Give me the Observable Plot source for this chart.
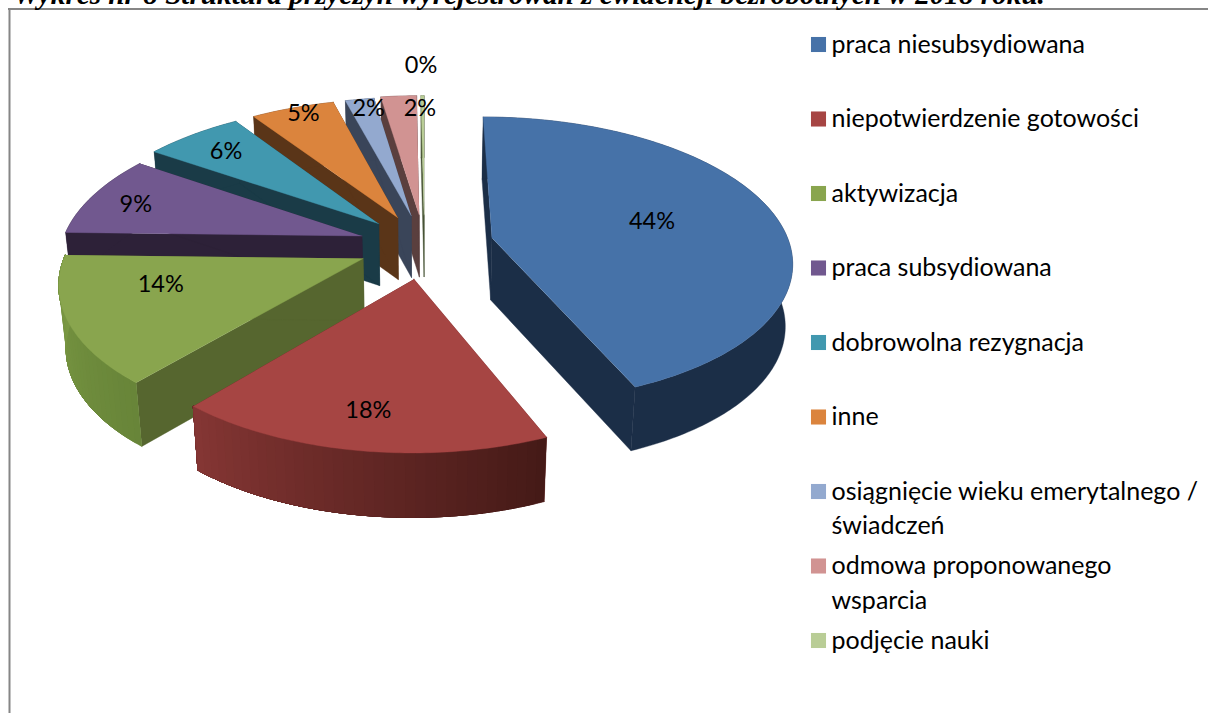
<!DOCTYPE html>
<html><head><meta charset="utf-8">
<script src="https://cdn.jsdelivr.net/npm/d3@7"></script>
<script src="https://cdn.jsdelivr.net/npm/@observablehq/plot@0.6"></script>
<style>html,body{margin:0;padding:0;background:#fff;overflow:hidden}svg{display:block}</style>
</head><body><div id="chart"></div>
<script>
const categories = ["praca niesubsydiowana","niepotwierdzenie gotowości","aktywizacja","praca subsydiowana","dobrowolna rezygnacja","inne","osiągnięcie wieku emerytalnego /\nświadczeń","odmowa proponowanego\nwsparcia","podjęcie nauki"];
const values = [43.7,17.5,14.2,9.1,6.1,5.2,1.8,2.2,0.2];
const labels = ["44%","18%","14%","9%","6%","5%","2%","2%","0%"];
const topColors = ["#4672a8","#a64543","#89a54e","#71588f","#4198af","#db843d","#93a9cf","#d19392","#b9cd96"];
const wallColors = ["#1b2e47","#5f2322","#56662f","#2d2138","#1a3b47","#5a3518","#3a4559","#5a3f3e","#4a5638"];
const rimFrom = [null,"#853634","#7c9a44",null,null,null,null,null,null];
const rimTo = [null,"#451a17","#688539",null,null,null,null,null,null];
// layout of the 3D view
const view = {x0:424, y0:245, R:295, b:140, k:0.15, h:62, hFront:2, explode:0.225, floorX:0.98};
const nudge = [[0.01,-0.01],[0,0.01],[0,0],[0,0],[0,0],[0,0],[0,0],[0,0],[0,0]];
const radius = [1.01,0.98,1,1.02,1.04,1.04,1.04,1.05,1.05];
const labelR = [0.571,0.785,0.678,0.84,0.82,0.955,0.928,0.911,1.354];
const labelShift = [0,0.5,8,-2,-1,0.8,1,4.7,-0.2];
const title = "Wykres nr 8 Struktura przyczyn wyrejestrowań z ewidencji bezrobotnych w 2018 roku.";
const legendRow = {first:44, step:74.5, sq:818, text:831};

const project = (X,Y,z=0)=>{const w=1-view.k*Y;
  const fx=1-(1-view.floorX)*z;
  return [view.x0+view.R*X/w*fx, view.y0+view.b*Y/w+z*(view.h+view.hFront*Math.max(0,Y))];};
const TAU = Math.PI*2, total = d3.sum(values);
const polys = [];
const add=(id,fill,pts)=>pts.forEach(([x,y])=>polys.push({id,fill,x,y}));
const slices = [];
let acc=0;
values.forEach((v,i)=>{const a0=acc/total*TAU;acc+=v;const a1=acc/total*TAU;const m=(a0+a1)/2;
  const ax=Math.sin(m)*view.explode+nudge[i][0], ay=-Math.cos(m)*view.explode+nudge[i][1];
  slices.push({i,a0,a1,m,ax,ay});});
const order=[...slices].sort((p,q)=>p.ay-q.ay);
order.forEach(s=>{
  const {i,a0,a1,ax,ay}=s, rr=radius[i];
  const P=(a,r=rr,z=0)=>project(ax+Math.sin(a)*r,ay-Math.cos(a)*r,z);
  const n=Math.max(2,Math.ceil((a1-a0)/0.015));
  const arc=d3.range(n+1).map(j=>a0+(a1-a0)*j/n);
  const c0=P(0,0,0), c1=P(0,0,1);
  add(`${i}-w0`,wallColors[i],[c0,c1,P(a0,rr,1),P(a0,rr,0)]);
  add(`${i}-w1`,wallColors[i],[c0,c1,P(a1,rr,1),P(a1,rr,0)]);
  add(`${i}-rim`,rimFrom[i]?d3.interpolateRgb(rimTo[i],rimFrom[i])(0.5):wallColors[i],[...arc.map(a=>P(a)),...arc.slice().reverse().map(a=>P(a,rr,1))]);
  if(rimFrom[i]){
    const mix=d3.interpolateRgb(rimTo[i],rimFrom[i]);
    for(let j=0;j<n;j+=2){
      const rest=arc.slice(j);
      add(`${i}-r${j}`,mix(j/(n-1)),[...rest.map(a=>P(a)),...rest.slice().reverse().map(a=>P(a,rr,1))]);
    }
  }
  add(`${i}-top`,topColors[i],[c0,...arc.map(a=>P(a))]);
});
const labelData=slices.map(s=>{const a=s.m+labelShift[s.i]*Math.PI/180,r=labelR[s.i];
  const [x,y]=project(s.ax+Math.sin(a)*r,s.ay-Math.cos(a)*r);return {x,y,t:labels[s.i]};});
const legendData=categories.map((c,i)=>({c,col:topColors[i],y:legendRow.first+i*legendRow.step}));
const sans="Lato, Carlito, sans-serif";
const plot=Plot.plot({width:1208,height:713,margin:0,
  x:{domain:[0,1208],range:[0,1208],axis:null},y:{domain:[0,713],range:[0,713],axis:null},
  color:{type:"identity"},
  marks:[
    Plot.ruleY([8.5],{x1:8,x2:1208,stroke:"#868686",strokeWidth:2}),
    Plot.ruleX([9],{y1:8,y2:713,stroke:"#868686",strokeWidth:2}),
    Plot.text([title],{x:13,y:3,text:d=>d,textAnchor:"start",lineAnchor:"bottom",fontFamily:"Liberation Serif",fontWeight:"bold",fontStyle:"italic",fontSize:29.2,fill:"#000"}),
    Plot.line(polys,{x:"x",y:"y",z:"id",fill:"fill",stroke:"fill",strokeWidth:0.4,curve:"linear"}),
    Plot.text(labelData,{x:"x",y:"y",dy:-1.5,text:"t",fontFamily:sans,fontSize:23.5,fill:"#000"}),
    Plot.dot(legendData,{x:()=>legendRow.sq,y:"y",symbol:"square",r:8.5,fill:"col",stroke:"none"}),
    Plot.text(legendData,{x:()=>legendRow.text,y:"y",text:"c",textAnchor:"start",lineAnchor:"top",dy:-16,lineHeight:1.37,fontFamily:sans,fontSize:25,fill:"#000"})
  ]});
document.getElementById("chart").append(plot);
</script></body></html>
